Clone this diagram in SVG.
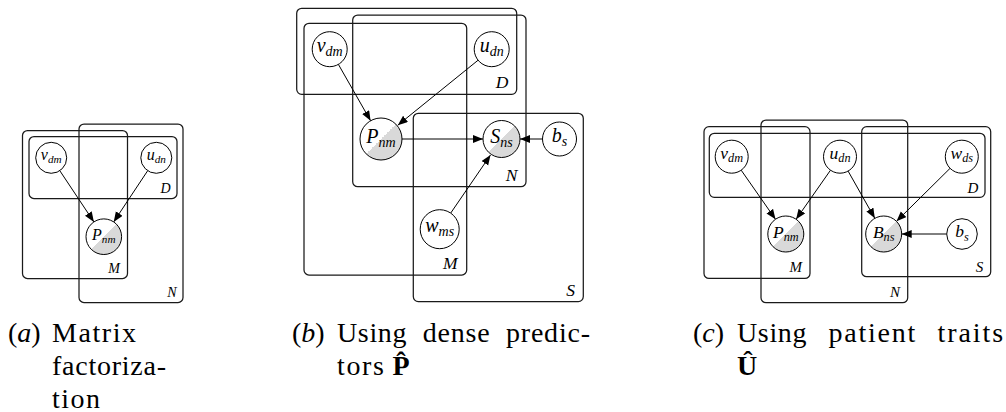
<svg xmlns="http://www.w3.org/2000/svg" width="1006" height="412" viewBox="0 0 1006 412">
<style>
.plate{fill:none;stroke:#1a1a1a;stroke-width:1.25}
.node{fill:#fff;stroke:#000;stroke-width:1}
.obs{fill:url(#half);stroke:#000;stroke-width:1}
.edge{fill:none;stroke:#000;stroke-width:1;marker-end:url(#arr)}
text{font-family:"Liberation Serif","Times New Roman",serif}
.m{font-style:italic;fill:#000;text-anchor:middle}
.ma{font-size:16px}.mb{font-size:20px}.mc{font-size:17.5px}
.sb{font-size:70%}
.pl{font-style:italic;fill:#000;text-anchor:end}
.pla{font-size:14px}.plb{font-size:17.5px}.plc{font-size:15px}
.cap{font-size:28px;fill:#000}
.it{font-style:italic}
.bf{font-weight:bold}
</style>
<defs>
<linearGradient id="half" x1="0" y1="0" x2="1" y2="1">
<stop offset="0.5" stop-color="#fff"/>
<stop offset="0.5" stop-color="#d9d9d9"/>
</linearGradient>
<marker id="arr" markerUnits="userSpaceOnUse" markerWidth="11" markerHeight="9" refX="10" refY="4" orient="auto">
<path d="M0,0 L10,4 L0,8 z" fill="#000"/>
</marker>
</defs>

<g font-family="Liberation Serif, serif">
<!-- Panel (a) -->
<g id="plates-a">
<rect id="a-plate-M" class="plate" x="22.5" y="130.5" width="105" height="148" rx="5"/>
<rect id="a-plate-N" class="plate" x="79" y="124" width="104" height="178.5" rx="5"/>
<rect id="a-plate-D" class="plate" x="29" y="136.5" width="148" height="62" rx="5"/>
<text class="pl pla" x="170.5" y="192.7">D</text>
<text class="pl pla" x="120" y="272.7">M</text>
<text class="pl pla" x="176.5" y="297.3">N</text>
</g>
<g id="connectors-a">
<line class="edge" x1="59.8" y1="170.7" x2="93.9" y2="221.9"/>
<line class="edge" x1="147.7" y1="170.7" x2="113.7" y2="221.9"/>
</g>
<g id="a-vdm"><circle class="node" cx="51.2" cy="157.8" r="15.5"/><text class="m ma" x="51.2" y="159.8">v<tspan class="sb" dy="3">dm</tspan></text></g>
<g id="a-udn"><circle class="node" cx="156.3" cy="157.8" r="15.5"/><text class="m ma" x="156.3" y="159.8">u<tspan class="sb" dy="3">dn</tspan></text></g>
<g id="a-Pnm"><circle class="obs" cx="103.8" cy="236.7" r="17.8"/><text class="m ma" x="103.8" y="239.7">P<tspan class="sb" dy="3">nm</tspan></text></g>
<g id="caption-a">
<text class="cap" x="8" y="342">(<tspan class="it">a</tspan>)</text>
<text class="cap" x="52" y="342" textLength="84" lengthAdjust="spacing">Matrix</text>
<text class="cap" x="52" y="375" textLength="114" lengthAdjust="spacing">factoriza-</text>
<text class="cap" x="52" y="407.5" textLength="48" lengthAdjust="spacing">tion</text>
</g>

<!-- Panel (b) -->
<g id="plates-b">
<rect id="b-plate-D" class="plate" x="296.7" y="8.3" width="220" height="86" rx="5"/>
<rect id="b-plate-N" class="plate" x="352.7" y="15" width="173.3" height="171.7" rx="5"/>
<rect id="b-plate-M" class="plate" x="304" y="23.3" width="162.7" height="251.7" rx="5"/>
<rect id="b-plate-S" class="plate" x="413.3" y="113.3" width="170" height="188.3" rx="5"/>
<text class="pl plb" x="508.3" y="88.3">D</text>
<text class="pl plb" x="517.5" y="180.5">N</text>
<text class="pl plb" x="457.5" y="268.5">M</text>
<text class="pl plb" x="575" y="295.5">S</text>
</g>
<g id="connectors-b">
<line class="edge" x1="338.4" y1="64.4" x2="370.6" y2="120.8"/>
<line class="edge" x1="478.1" y1="60.2" x2="397.8" y2="125.2"/>
<line class="edge" x1="402" y1="139" x2="483" y2="139"/>
<line class="edge" x1="542.5" y1="139" x2="520" y2="139"/>
<line class="edge" x1="450.7" y1="213.1" x2="490.5" y2="155"/>
</g>
<g id="b-vdm"><circle class="node" cx="329.7" cy="49.2" r="17.5"/><text class="m mb" x="329.7" y="51.7">v<tspan class="sb" dy="4">dm</tspan></text></g>
<g id="b-udn"><circle class="node" cx="491.7" cy="49.2" r="17.5"/><text class="m mb" x="491.7" y="51.7">u<tspan class="sb" dy="4">dn</tspan></text></g>
<g id="b-Pnm"><circle class="obs" cx="381" cy="139" r="21"/><text class="m mb" x="381" y="143">P<tspan class="sb" dy="4">nm</tspan></text></g>
<g id="b-Sns"><circle class="obs" cx="501.5" cy="139" r="18.5"/><text class="m mb" x="501.5" y="143">S<tspan class="sb" dy="4">ns</tspan></text></g>
<g id="b-bs"><circle class="node" cx="559.5" cy="139" r="17"/><text class="m mb" x="559.5" y="142">b<tspan class="sb" dy="4">s</tspan></text></g>
<g id="b-wms"><circle class="node" cx="439.7" cy="229.2" r="19.5"/><text class="m mb" x="439.7" y="231.7">w<tspan class="sb" dy="4">ms</tspan></text></g>
<g id="caption-b">
<text class="cap" x="292" y="342">(<tspan class="it">b</tspan>)</text>
<text class="cap" x="337" y="342" textLength="69.4" lengthAdjust="spacing">Using</text>
<text class="cap" x="422.7" y="342" textLength="67" lengthAdjust="spacing">dense</text>
<text class="cap" x="506" y="342" textLength="84" lengthAdjust="spacing">predic-</text>
<text class="cap" x="337" y="375"><tspan textLength="46.9" lengthAdjust="spacing">tors</tspan> <tspan class="bf">P̂</tspan></text>
</g>

<!-- Panel (c) -->
<g id="plates-c">
<rect id="c-plate-M" class="plate" x="704" y="126.7" width="106" height="151.7" rx="5"/>
<rect id="c-plate-N" class="plate" x="761" y="120" width="146.7" height="182.7" rx="5"/>
<rect id="c-plate-D" class="plate" x="709.3" y="133.3" width="275.7" height="64" rx="5"/>
<rect id="c-plate-S" class="plate" x="861.7" y="126.7" width="129" height="150" rx="5"/>
<text class="pl plc" x="978.3" y="192.5">D</text>
<text class="pl plc" x="802" y="272">M</text>
<text class="pl plc" x="983.3" y="271.5">S</text>
<text class="pl plc" x="900" y="297">N</text>
</g>
<g id="connectors-c">
<line class="edge" x1="741.2" y1="170.2" x2="775.5" y2="219.3"/>
<line class="edge" x1="830.5" y1="170.2" x2="796.1" y2="219.3"/>
<line class="edge" x1="848.1" y1="171.1" x2="874.8" y2="218.3"/>
<line class="edge" x1="950.1" y1="168.3" x2="896.5" y2="221.3"/>
<line class="edge" x1="946.7" y1="234" x2="901.7" y2="234"/>
</g>
<g id="c-vdm"><circle class="node" cx="731.7" cy="156.7" r="16.5"/><text class="m mc" x="731.7" y="158.7">v<tspan class="sb" dy="3.5">dm</tspan></text></g>
<g id="c-udn"><circle class="node" cx="840" cy="156.7" r="16.5"/><text class="m mc" x="840" y="158.7">u<tspan class="sb" dy="3.5">dn</tspan></text></g>
<g id="c-wds"><circle class="node" cx="961.8" cy="156.7" r="16.5"/><text class="m mc" x="961.8" y="158.7">w<tspan class="sb" dy="3.5">ds</tspan></text></g>
<g id="c-Pnm"><circle class="obs" cx="785.8" cy="234" r="18"/><text class="m mc" x="785.8" y="237.5">P<tspan class="sb" dy="3.5">nm</tspan></text></g>
<g id="c-Bns"><circle class="obs" cx="883.7" cy="234" r="18"/><text class="m mc" x="883.7" y="237.5">B<tspan class="sb" dy="3.5">ns</tspan></text></g>
<g id="c-bs"><circle class="node" cx="962" cy="234" r="15.3"/><text class="m mc" x="962" y="237">b<tspan class="sb" dy="3.5">s</tspan></text></g>
<g id="caption-c">
<text class="cap" x="693" y="342">(<tspan class="it">c</tspan>)</text>
<text class="cap" x="737" y="342" textLength="69.4" lengthAdjust="spacing">Using</text>
<text class="cap" x="828.4" y="342" textLength="87" lengthAdjust="spacing">patient</text>
<text class="cap" x="937.5" y="342" textLength="65.6" lengthAdjust="spacing">traits</text>
<text class="cap bf" x="737" y="375">Û</text>
</g>
</g>
</svg>
